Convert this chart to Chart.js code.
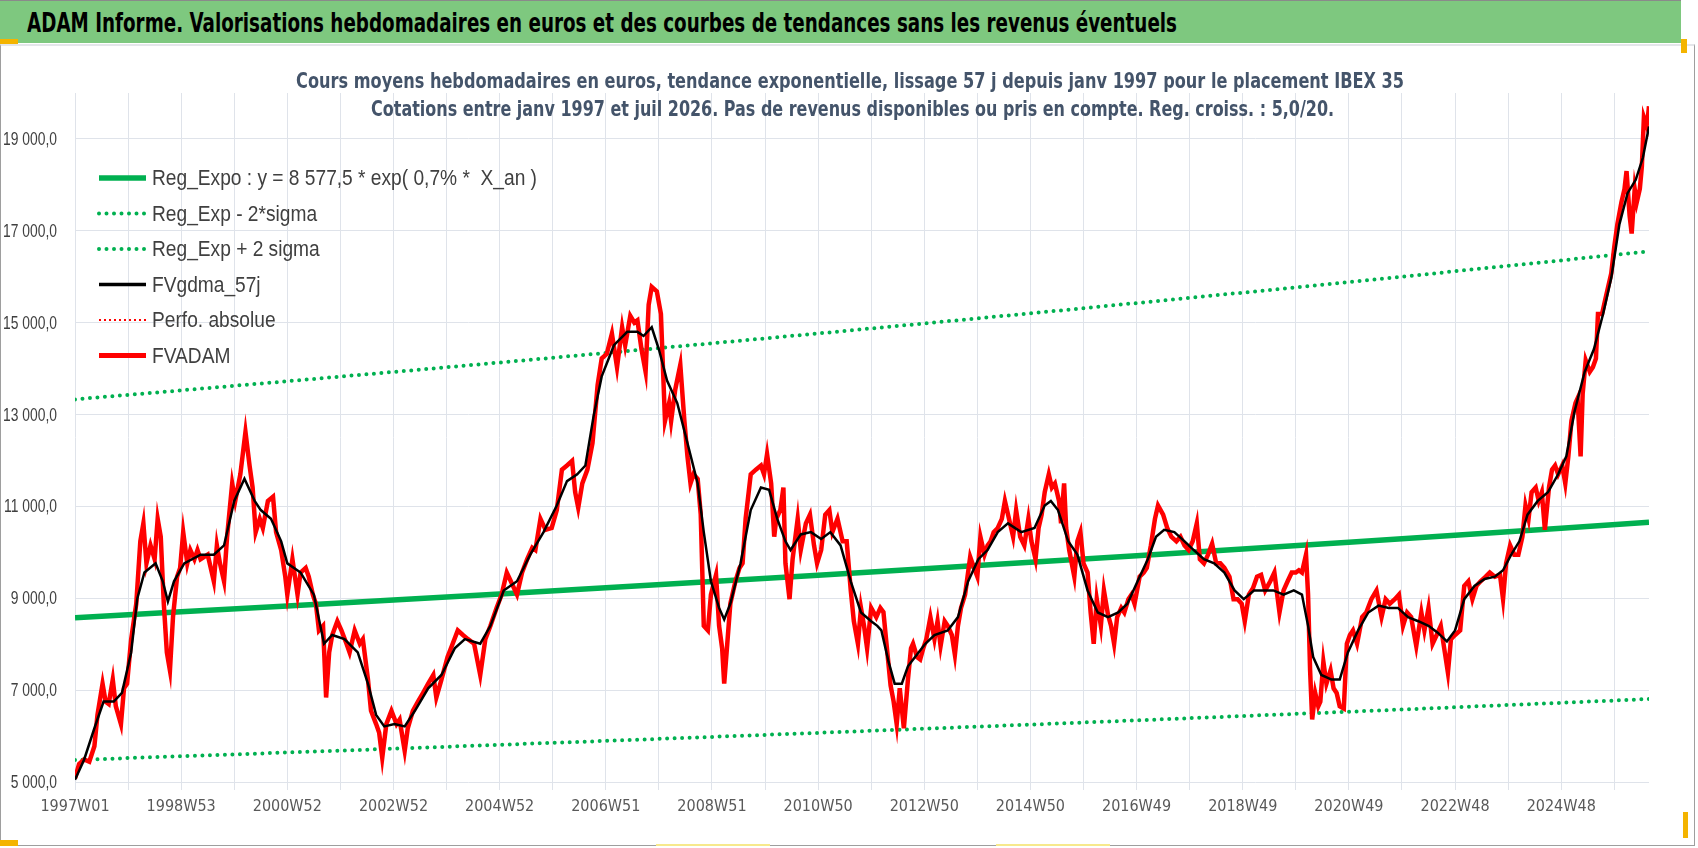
<!DOCTYPE html>
<html>
<head>
<meta charset="utf-8">
<script src="https://cdn.jsdelivr.net/npm/chart.js@4.4.1/dist/chart.umd.min.js"></script>
<style>
  html, body { margin: 0; padding: 0; background: #fff; }
  #page { position: relative; width: 1698px; height: 848px; overflow: hidden; background: #fff; }
  #frame { position: absolute; left: 0; top: 44px; width: 1695px; height: 802px; box-sizing: border-box;
           border: 1px solid #9e9e9e; border-top: 2px solid #e4e6ea; }
  #banner { position: absolute; left: 0; top: 0; width: 1681px; height: 42px; background: #7ec87f;
            border-top: 1px solid #8a8a8a; }
  #chart { position: absolute; left: 0; top: 0; }
  .fit { display: inline-block; white-space: nowrap; }
  #bannerText { position: absolute; left: 27px; top: 6px; line-height: 30px; color: #000;
                font: bold 27px "DejaVu Sans Condensed", "Liberation Sans", sans-serif; transform-origin: left center; }
  .subline { position: absolute; left: 0; width: 1700px; text-align: center; line-height: 24px; color: #44546a;
             font: bold 21px "DejaVu Sans Condensed", "Liberation Sans", sans-serif; }
  .subline span { transform-origin: center center; }
  .mark { position: absolute; background: #f4b400; }
</style>
</head>
<body>
<div id="page">
  <div id="frame"></div>
  <canvas id="chart" width="1698" height="848"></canvas>
  <div id="banner"><span id="bannerText" class="fit" data-w="1150">ADAM Informe. Valorisations hebdomadaires en euros et des courbes de tendances sans les revenus éventuels</span></div>
  <div class="subline" style="top:69px"><span class="fit" data-w="1108">Cours moyens hebdomadaires en euros, tendance exponentielle, lissage 57 j depuis janv 1997  pour le placement IBEX 35</span></div>
  <div class="subline" style="top:97px;left:3px"><span class="fit" data-w="963">Cotations entre janv 1997 et juil 2026. Pas de revenus disponibles ou pris en compte. Reg. croiss. : 5,0/20.</span></div>
  <div class="mark" style="left:0;top:39px;width:18px;height:5px"></div>
  <div class="mark" style="left:1681px;top:39px;width:6px;height:14px"></div>
  <div class="mark" style="left:0;top:840px;width:18px;height:6px"></div>
  <div class="mark" style="left:1683px;top:812px;width:5px;height:26px"></div>
  <div class="mark" style="left:656px;top:844px;width:114px;height:2px;background:#f7e98c"></div>
  <div class="mark" style="left:996px;top:844px;width:114px;height:2px;background:#f7e98c"></div>
</div>
<script>
// weekly index (0 = 1997W01) and value in euros
const fvadam = [
  [0,5080],[4,5390],[9,5490],[14,5440],[19,5780],[22,6460],[27,7140],[30,6750],[33,6700],[37,7230],
  [40,6650],[45,6260],[48,7040],[51,7140],[55,8100],[60,8880],[64,10240],[67,10630],[70,9760],[74,10150],
  [78,9850],[81,10730],[84,10340],[87,8880],[90,7820],[93,7430],[96,8590],[100,9470],[103,9660],[106,10440],
  [110,9760],[113,10050],[117,9850],[120,10050],[123,9850],[130,9950],[136,9370],[139,10150],[142,9760],[146,9370],
  [149,10340],[154,11500],[157,11120],[162,11700],[167,12620],[171,11890],[174,11410],[177,10440],[181,10730],[184,10530],
  [189,11120],[194,11210],[197,10440],[202,10050],[206,9470],[208,9080],[213,9850],[218,9080],[221,9560],[226,9660],
  [229,9470],[233,9080],[236,8880],[239,8300],[243,8400],[246,6840],[249,7820],[252,8200],[257,8500],[261,8300],
  [266,8010],[269,7820],[274,8300],[279,8010],[282,8110],[287,7230],[290,6550],[295,6260],[298,6070],[301,5530],
  [305,6260],[310,6550],[315,6260],[318,6360],[323,5680],[326,6170],[331,6550],[336,6750],[341,6940],[346,7140],
  [351,7330],[354,6840],[359,7230],[365,7720],[370,8010],[375,8300],[380,8200],[385,8110],[391,8010],[397,7330],
  [402,8110],[407,8400],[413,8790],[418,9080],[423,9560],[428,9320],[433,9080],[438,9560],[443,9850],[448,10100],
  [451,10050],[456,10730],[461,10490],[467,10530],[472,10920],[477,11800],[482,11890],[487,11990],[490,11310],[493,10970],
  [497,11500],[502,11800],[507,12380],[512,13640],[516,14220],[521,14320],[526,14760],[531,14030],[536,14900],[539,14510],
  [544,15150],[548,15000],[551,15050],[555,14420],[559,13930],[562,15390],[565,15780],[570,15680],[574,15190],[578,12860],
  [582,13250],[584,12860],[588,13540],[593,14080],[597,12860],[600,12090],[603,11500],[606,11700],[610,11600],[613,10830],
  [616,8400],[620,8300],[623,9080],[628,9510],[631,8400],[634,7910],[636,7140],[639,8010],[642,8880],[647,9370],
  [651,9660],[654,9760],[657,10730],[662,11700],[667,11800],[672,11890],[675,11700],[678,12140],[682,11500],[685,10340],
  [687,10730],[691,10920],[694,11410],[696,9760],[700,8980],[703,9850],[708,10730],[711,10050],[716,10630],[720,10820],
  [724,10150],[727,9760],[731,10050],[735,10820],[739,10920],[742,10440],[747,10730],[752,10240],[756,10240],[760,9170],
  [763,8500],[767,8010],[770,8790],[773,8400],[776,7910],[780,8790],[785,8590],[789,8790],[792,8700],[795,8010],
  [799,7100],[802,6750],[805,6260],[808,7040],[812,6170],[816,7230],[819,7910],[821,8010],[825,7720],[828,7670],
  [831,7910],[834,8110],[838,8590],[842,8110],[845,8500],[848,7960],[852,8500],[855,8400],[859,8200],[862,7770],
  [865,8400],[868,8790],[872,9080],[877,9900],[880,9710],[884,9470],[887,10340],[891,9950],[894,10150],[897,10240],
  [900,10440],[904,10530],[908,10730],[911,11120],[915,10730],[919,10340],[922,10920],[926,10340],[930,10150],[934,10730],
  [937,10240],[941,9850],[944,10530],[947,10820],[950,11310],[954,11700],[957,11410],[960,11500],[964,11120],[966,10630],
  [969,11500],[971,10530],[974,10050],[979,9470],[982,10240],[985,10440],[988,9760],[992,9560],[995,8690],[998,8010],
  [1001,8980],[1005,8400],[1008,9170],[1012,8640],[1015,8400],[1018,8010],[1021,8590],[1025,8790],[1028,8690],[1032,8980],
  [1035,9080],[1038,8880],[1043,9470],[1047,9560],[1050,9660],[1054,10150],[1058,10730],[1061,11020],[1066,10820],[1070,10530],
  [1074,10340],[1079,10240],[1083,10340],[1087,10150],[1091,10050],[1095,10240],[1099,10630],[1102,9850],[1106,9760],[1110,9950],
  [1114,10190],[1118,9760],[1122,9760],[1126,9660],[1131,9470],[1135,8980],[1139,8980],[1143,8880],[1146,8500],[1150,9080],
  [1154,9220],[1158,9470],[1162,9510],[1166,9170],[1171,9370],[1175,9560],[1180,8690],[1184,9170],[1188,9370],[1192,9560],
  [1196,9560],[1199,9610],[1202,9560],[1206,9950],[1208,9080],[1210,7430],[1212,6360],[1215,6940],[1218,6650],[1220,6750],
  [1223,7620],[1226,7140],[1230,7430],[1233,7040],[1236,6940],[1239,6650],[1243,6600],[1246,8010],[1249,8200],[1252,8300],
  [1256,8010],[1261,8590],[1265,8690],[1270,8980],[1275,9170],[1280,8590],[1284,8980],[1288,8880],[1293,8980],[1297,9080],
  [1301,8400],[1305,8690],[1309,8590],[1314,7960],[1319,8690],[1322,8300],[1326,8790],[1330,8010],[1334,8200],[1338,8400],
  [1342,7820],[1345,7380],[1348,8110],[1352,8200],[1357,8300],[1361,9270],[1365,9370],[1369,8980],[1373,9270],[1377,9370],
  [1382,9470],[1386,9560],[1391,9470],[1396,9510],[1399,8980],[1402,9760],[1406,10150],[1410,9950],[1414,9950],[1418,10340],
  [1421,11020],[1424,10730],[1427,11310],[1431,11410],[1434,11120],[1437,11310],[1440,10490],[1444,11410],[1447,11800],[1450,11890],
  [1453,11700],[1457,11890],[1460,11500],[1463,12090],[1466,12860],[1470,13250],[1472,13350],[1475,12090],[1477,13450],[1480,14180],
  [1484,13930],[1487,14030],[1490,14220],[1492,15190],[1496,15190],[1499,15490],[1502,15780],[1505,16070],[1508,16650],[1511,17140],
  [1515,17620],[1518,17910],[1520,18300],[1523,17330],[1525,16940],[1528,17910],[1530,17620],[1533,17910],[1535,18400],[1537,19470],
  [1540,19270],[1542,19710]
];

// 57-day smoothed average
const fvgdma = [
  [0,5050],[9,5490],[19,6170],[28,6750],[38,6750],[46,6940],[55,7820],[61,8990],[68,9560],[79,9760],
  [86,9370],[91,8930],[97,9370],[107,9760],[123,9950],[136,9950],[146,10150],[156,11120],[166,11600],[176,11120],
  [182,10920],[192,10730],[202,10240],[208,9760],[221,9560],[234,9080],[244,8010],[252,8200],[264,8110],[277,7820],
  [287,7140],[295,6460],[303,6210],[313,6260],[323,6210],[333,6550],[346,7040],[359,7330],[372,7910],[382,8110],
  [397,8010],[407,8400],[420,9170],[433,9370],[446,9950],[459,10440],[472,11020],[482,11550],[492,11700],[500,11890],
  [508,12960],[516,13830],[528,14510],[541,14800],[551,14800],[557,14710],[565,14900],[572,14420],[580,13740],[590,13250],
  [600,12380],[610,11500],[616,10440],[623,9370],[631,8790],[636,8540],[642,8880],[652,9760],[662,10920],[672,11410],
  [680,11360],[688,10730],[696,10240],[701,10050],[711,10390],[721,10440],[731,10290],[740,10440],[750,10150],[760,9370],
  [770,8690],[780,8500],[786,8400],[790,8300],[797,7620],[803,7140],[810,7140],[816,7520],[823,7720],[833,8010],
  [842,8200],[855,8300],[865,8590],[875,9370],[885,9850],[894,10050],[904,10440],[914,10630],[927,10440],[940,10530],
  [950,11020],[956,11120],[963,10920],[973,10240],[982,9950],[992,9170],[1002,8690],[1012,8590],[1022,8690],[1031,8880],
  [1041,9370],[1051,9850],[1059,10340],[1067,10490],[1077,10440],[1087,10240],[1096,10050],[1106,9850],[1116,9760],[1126,9560],
  [1136,9170],[1145,8980],[1155,9170],[1165,9170],[1174,9170],[1184,9080],[1194,9170],[1202,9080],[1208,8400],[1213,7720],
  [1221,7330],[1231,7230],[1239,7230],[1247,7820],[1257,8300],[1267,8690],[1277,8840],[1287,8790],[1296,8790],[1306,8590],
  [1316,8500],[1326,8400],[1335,8250],[1344,8060],[1352,8300],[1361,8980],[1371,9270],[1381,9420],[1391,9470],[1399,9610],
  [1407,9950],[1415,10240],[1423,10820],[1433,11120],[1443,11310],[1453,11700],[1461,12090],[1469,13060],[1479,13930],[1488,14420],
  [1497,15190],[1505,15970],[1513,17140],[1521,17820],[1529,18110],[1536,18590],[1542,19270]
];

// trend curves, read every 104 weeks
const trendWeeks = [0, 104, 208, 312, 416, 520, 624, 728, 832, 936, 1040, 1144, 1248, 1352, 1456, 1542];
const regExpo  = [8578, 8704, 8832, 8962, 9094, 9228, 9364, 9502, 9642, 9784, 9928, 10074, 10222, 10373, 10525, 10653];
const regLow   = [5480, 5561, 5642, 5725, 5810, 5895, 5982, 6070, 6160, 6250, 6342, 6436, 6530, 6627, 6724, 6806];
const regHigh  = [13330, 13526, 13725, 13927, 14132, 14340, 14551, 14765, 14983, 15203, 15427, 15654, 15885, 16119, 16356, 16553];

const xLabelWeeks = [0, 104, 208, 312, 416, 520, 624, 728, 832, 936, 1040, 1144, 1248, 1352, 1456];
const xLabels = ['1997W01', '1998W53', '2000W52', '2002W52', '2004W52', '2006W51', '2008W51', '2010W50',
                 '2012W50', '2014W50', '2016W49', '2018W49', '2020W49', '2022W48', '2024W48'];
const yTicks = [5000, 7000, 9000, 11000, 13000, 15000, 17000, 19000];

const condensed = '"DejaVu Sans Condensed", "Liberation Sans", sans-serif';
const gridColor = '#dfe3ea';

function pts(pairs) {
  return pairs.map(p => ({ x: p[0], y: p[1] }));
}
function trend(values) {
  return trendWeeks.map((w, i) => ({ x: w, y: values[i] }));
}
function frNumber(v) {
  return String(v).replace(/\B(?=(\d{3})+(?!\d))/g, ' ') + ',0';
}

// y labels: narrow Calibri-like look, squeezed a bit, placed with the y scale
const yLabelPlugin = {
  id: 'yLabelPlugin',
  afterDraw(chart) {
    const ctx = chart.ctx;
    const ys = chart.scales.y;
    ctx.save();
    ctx.font = '18px "Liberation Sans", sans-serif';
    ctx.fillStyle = '#404040';
    ctx.textAlign = 'right';
    ctx.textBaseline = 'middle';
    yTicks.forEach(v => {
      ctx.save();
      ctx.translate(57, ys.getPixelForValue(v) + 1);
      ctx.scale(0.77, 1);
      ctx.fillText(frNumber(v), 0, 0);
      ctx.restore();
    });
    ctx.restore();
  }
};

// legend drawn inside the plot, top left, like the Excel one
const insideLegend = {
  id: 'insideLegend',
  afterDraw(chart) {
    const ctx = chart.ctx;
    const sets = chart.data.datasets;
    ctx.save();
    ctx.font = '22px "Liberation Sans", sans-serif';
    ctx.textBaseline = 'middle';
    // first label spans about 385px in the reference
    const k = 385 / ctx.measureText(sets[0].label).width;
    sets.forEach((ds, i) => {
      const y = 178 + i * 35.5;
      ctx.beginPath();
      ctx.strokeStyle = ds.borderColor;
      ctx.lineWidth = ds.legendWidth || ds.borderWidth;
      ctx.lineCap = ds.borderCapStyle || 'butt';
      ctx.setLineDash(ds.legendDash || ds.borderDash || []);
      ctx.moveTo(99, y);
      ctx.lineTo(146, y);
      ctx.stroke();
      ctx.setLineDash([]);
      ctx.fillStyle = '#404040';
      ctx.save();
      ctx.translate(152, y + 1);
      ctx.scale(k, 1);
      ctx.fillText(ds.label, 0, 0);
      ctx.restore();
    });
    ctx.restore();
  }
};

const data = {
  datasets: [
    { label: 'Reg_Expo : y = 8 577,5 * exp( 0,7% *  X_an )', data: trend(regExpo),
      borderColor: '#00b050', borderWidth: 5.5, order: 3 },
    { label: 'Reg_Exp - 2*sigma', data: trend(regLow),
      borderColor: '#00b050', borderWidth: 4, borderDash: [0, 7.5], borderCapStyle: 'round', order: 3 },
    { label: 'Reg_Exp + 2 sigma', data: trend(regHigh),
      borderColor: '#00b050', borderWidth: 4, borderDash: [0, 7.5], borderCapStyle: 'round', order: 3 },
    { label: 'FVgdma_57j', data: pts(fvgdma),
      borderColor: '#000000', borderWidth: 2.5, legendWidth: 3.5, order: 0 },
    { label: 'Perfo. absolue', data: [],
      borderColor: '#ff0000', borderWidth: 2, borderDash: [2, 3], order: 2 },
    { label: 'FVADAM', data: pts(fvadam),
      borderColor: '#ff0000', borderWidth: 4.5, legendWidth: 5, order: 1 }
  ]
};

const config = {
  type: 'line',
  data: data,
  options: {
    responsive: false,
    animation: false,
    devicePixelRatio: 1,
    elements: { point: { radius: 0 }, line: { tension: 0 } },
    layout: { padding: { left: 0, right: 49, top: 93, bottom: 0 } },
    plugins: { legend: { display: false }, tooltip: { enabled: false } },
    scales: {
      x: {
        type: 'linear',
        min: 0,
        max: 1542,
        afterBuildTicks: (scale) => {
          // a grid line every 52 weeks, a label every 104
          scale.ticks = [];
          for (let w = 0; w <= 1542; w += 52) scale.ticks.push({ value: w });
        },
        afterFit: (scale) => { scale.height = 66; },
        grid: { color: gridColor, tickColor: gridColor, tickLength: 8, lineWidth: 1 },
        border: { display: false },
        ticks: {
          autoSkip: false,
          maxRotation: 0,
          padding: 7,
          color: '#595959',
          font: { family: condensed, size: 16 },
          callback: (v) => {
            const i = xLabelWeeks.indexOf(v);
            return i >= 0 ? xLabels[i] : '';
          }
        }
      },
      y: {
        min: 5000,
        max: 20000,
        afterBuildTicks: (scale) => { scale.ticks = yTicks.map(v => ({ value: v })); },
        afterFit: (scale) => { scale.width = 75; },
        grid: { color: gridColor, drawTicks: false, lineWidth: 1 },
        border: { display: false },
        ticks: { display: false }
      }
    }
  },
  plugins: [yLabelPlugin, insideLegend]
};

let chart;

function fitTexts() {
  document.querySelectorAll('.fit').forEach(el => {
    el.style.transform = 'none';
    const w = el.getBoundingClientRect().width;
    const target = Number(el.dataset.w);
    if (w > 0) el.style.transform = 'scaleX(' + (target / w) + ')';
  });
}

document.fonts.ready.then(() => {
  fitTexts();
  chart = new Chart(document.getElementById('chart'), config);
});
</script>
</body>
</html>
